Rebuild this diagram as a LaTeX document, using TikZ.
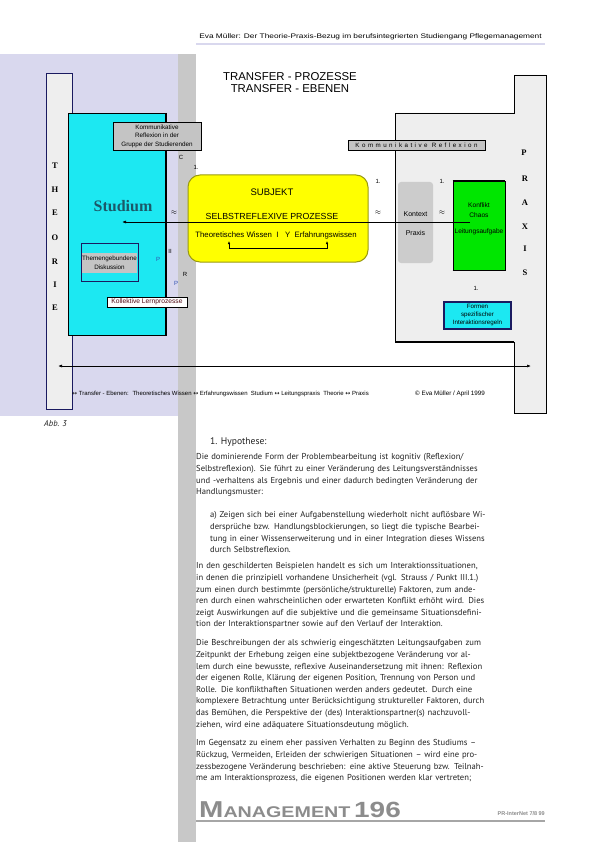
\documentclass[tikz,border=0pt]{standalone}
\usepackage{fontspec}
\setmainfont{PT Sans}
\newfontfamily\arial{Liberation Sans}
\newfontfamily\tnr{Liberation Serif}
\newfontfamily\djv{DejaVu Sans}
\usetikzlibrary{arrows.meta}
\definecolor{lav}{HTML}{D9D8EE}
\definecolor{gbar}{HTML}{C8C8C8}
\definecolor{pale}{HTML}{EEEEEE}
\definecolor{cyanb}{HTML}{1CE8F2}
\definecolor{studcol}{HTML}{1B5868}
\definecolor{yel}{HTML}{FFFF00}
\definecolor{olivb}{HTML}{9A9A10}
\definecolor{grn}{HTML}{00E600}
\definecolor{ctx}{HTML}{CCCCCC}
\definecolor{lbl}{HTML}{C4C4C4}
\definecolor{navyb}{HTML}{1A1A60}
\definecolor{txt}{HTML}{222222}
\definecolor{mgray}{HTML}{8C8C8C}
\definecolor{pblue}{HTML}{3050B0}
\newcommand{\jl}[1]{\makebox[\linewidth][s]{#1}}
\begin{document}
\begin{tikzpicture}[x=1pt,y=-1pt,
  tinytxt/.style={font=\arial\fontsize{6.3}{8.6}\selectfont, inner sep=0pt, align=center},
  smalltxt/.style={font=\arial\fontsize{6.7}{7.5}\selectfont, inner sep=0pt, align=center},
  midtxt/.style={font=\arial\fontsize{7}{9}\selectfont, inner sep=0pt, align=center},
  lettertxt/.style={font=\tnr\bfseries\fontsize{8.5}{8.5}\selectfont, inner sep=0pt},
  marktxt/.style={font=\arial\fontsize{6}{6}\selectfont, inner sep=0pt},
  lblbox/.style={draw=black, fill=lbl, line width=0.6pt},
  bodytxt/.style={font=\fontsize{8.6}{11.6}\selectfont, text=txt, inner sep=0pt, anchor=north west, align=left},
  arr/.style={-{Latex[length=4pt,width=3pt]}, line width=0.7pt},
  dblarr/.style={{Latex[length=4pt,width=3pt]}-{Latex[length=4pt,width=3pt]}, line width=0.7pt}
]
\useasboundingbox (0,0) rectangle (595,842);
\fill[white] (0,0) rectangle (595,842);
% background bands
\fill[lav] (0,54) rectangle (178,416);
\fill[gbar] (178,54) rectangle (196,842);
\draw[lav, line width=1.5pt] (196,44) -- (545,44);
\node[font=\arial\fontsize{6.6}{7}\selectfont, anchor=base, inner sep=0pt] (hdr) at (370.5,38.5)
  {\scalebox{1.26}[1]{Eva Müller: Der Theorie-Praxis-Bezug im berufsintegrierten Studiengang Pflegemanagement}};

% THEORIE column and Studium
\draw[navyb, line width=1pt, fill=pale] (46,74) rectangle (72,409);
\draw[black, line width=0.6pt, fill=cyanb] (68,113) rectangle (166,335);
\draw[line width=1.3pt] (166,113) -- (166,335);
\node[lettertxt] (th1) at (55,166) {T};
\node[lettertxt] (th2) at (55,190) {H};
\node[lettertxt] (th3) at (55,213) {E};
\node[lettertxt] (th4) at (55,238) {O};
\node[lettertxt] (th5) at (55,262) {R};
\node[lettertxt] (th6) at (55,285) {I};
\node[lettertxt] (th7) at (55,308) {E};
\node[font=\tnr\bfseries\fontsize{16}{16}\selectfont, text=studcol, inner sep=0pt] (stud) at (123,206) {Studium};
\coordinate (studend) at (122,222);

% PRAXIS column
\draw[black, line width=0.6pt, fill=pale] (395,113) -- (514,113) -- (514,75) -- (546,75) -- (546,413) -- (514,413) -- (514,342) -- (395,342) -- cycle;
\draw[line width=1.6pt] (395,342) -- (514,342);
\node[lettertxt] (pr1) at (524,153) {P};
\node[lettertxt] (pr2) at (525,179) {R};
\node[lettertxt] (pr3) at (525,203) {A};
\node[lettertxt] (pr4) at (525,227) {X};
\node[lettertxt] (pr5) at (525,249) {I};
\node[lettertxt] (pr6) at (525,273) {S};

% titles
\node[font=\arial\fontsize{11.4}{11.4}\selectfont, inner sep=0pt] (tit1) at (290,77) {TRANSFER - PROZESSE};
\node[font=\arial\fontsize{11.4}{11.4}\selectfont, inner sep=0pt] (tit2) at (290,89) {TRANSFER - EBENEN};

% label boxes
\node[lblbox, tinytxt, minimum width=88pt, minimum height=28pt] (komgr) at (157,136)
  {Kommunikative\\Reflexion in der\\Gruppe der Studierenden};
\node[lblbox, minimum width=137pt, minimum height=10pt, inner sep=0pt,
  font=\arial\fontsize{6.2}{6.2}\selectfont\addfontfeature{LetterSpace=40}] (komref) at (416.5,145) {Kommunikative Reflexion};

\node[draw=navyb, line width=1pt, minimum width=57pt, minimum height=38pt, inner sep=0pt] (themen) at (109.5,262) {};
\node[fill=lbl, font=\arial\fontsize{6.3}{8.8}\selectfont, align=center, inner sep=0pt, minimum width=55pt, minimum height=20pt] (themtxt) at (109.5,263) {Themengebundene\\Diskussion};
\node[draw=black, fill=white, line width=0.8pt, minimum width=80pt, minimum height=10pt, smalltxt, text={rgb,255:red,80;green,10;blue,20}] (koll) at (147,302) {Kollektive Lernprozesse};

% marks
\node[marktxt] (mc) at (181,157) {C};
\node[marktxt] (m1a) at (196,167) {1.};
\node[marktxt, text=pblue] (mp1) at (158,259) {P};
\node[marktxt] (mii) at (170,251) {II};
\node[marktxt] (mr) at (185,274) {R};
\node[marktxt, text=pblue] (mp2) at (176,283) {P};
\node[marktxt] (m1b) at (378,181) {1.};
\node[marktxt] (m1c) at (442,181) {1.};
\node[marktxt] (m1d) at (476,288) {1.};
\node[inner sep=0pt, font=\fontsize{7}{7}\selectfont] (ap1) at (174,213) {$\approx$};
\node[inner sep=0pt, font=\fontsize{7}{7}\selectfont] (ap2) at (378,213) {$\approx$};
\node[inner sep=0pt, font=\fontsize{7}{7}\selectfont] (ap3) at (442,213) {$\approx$};

% subject box
\node[draw=olivb, fill=yel, line width=1pt, rounded corners=12pt, minimum width=180pt, minimum height=87pt, inner sep=0pt] (subj) at (278,218.5) {};
\node[font=\arial\fontsize{9.5}{9.5}\selectfont, inner sep=0pt] (subjt) at (272,192) {SUBJEKT};
\node[font=\arial\fontsize{8.8}{8.8}\selectfont, inner sep=0pt] (selbst) at (272,216) {SELBSTREFLEXIVE PROZESSE};
\node[font=\arial\fontsize{7.8}{7.8}\selectfont, inner sep=0pt] (wissen) at (276,235) {Theoretisches Wissen \ I \ \ Y \ Erfahrungswissen};
\coordinate (brl) at (229,241);
\coordinate (brr) at (327,241);
\draw[{Latex[length=3pt,width=2.5pt]}-{Latex[length=3pt,width=2.5pt]}, line width=0.7pt] (brl) -- ++(0,7) -| (brr);

% context and green boxes
\node[fill=ctx, rounded corners=3pt, minimum width=35pt, minimum height=81pt, inner sep=0pt] (ctxbox) at (415.5,222.5) {};
\node[midtxt] (ctx1) at (415.5,214) {Kontext};
\node[midtxt] (ctx2) at (415.5,233) {Praxis};
\node[draw=black, fill=grn, line width=0.6pt, minimum width=52pt, minimum height=89pt, inner sep=0pt] (grnbox) at (479,225.5) {};
\draw[line width=1.6pt] (grnbox.north west) -- (grnbox.north east);
\draw[line width=1.6pt] (grnbox.south west) -- (grnbox.south east);
\node[font=\arial\fontsize{6.6}{6.6}\selectfont, inner sep=0pt] (g1) at (479,205) {Konflikt};
\node[font=\arial\fontsize{6.6}{6.6}\selectfont, inner sep=0pt] (g2) at (479,215) {Chaos};
\node[font=\arial\fontsize{6.6}{6.6}\selectfont, inner sep=0pt] (g3) at (479,232) {Leitungsaufgabe};
\coordinate (grnstart) at (470,222);
\draw[arr] (grnstart) -- (studend);

\node[draw=navyb, fill=cyanb, line width=1.2pt, minimum width=67pt, minimum height=27pt, inner sep=0pt,
  font=\arial\fontsize{6.2}{8}\selectfont, align=center] (formen) at (477.5,315.5) {Formen\\spezifischer\\Interaktionsregeln};

% bottom double arrow
\coordinate (tarr) at (58,366);
\coordinate (parr) at (531,366);
\draw[dblarr] (tarr) -- (parr);

% legend
\node[font=\arial\fontsize{6}{6}\selectfont, anchor=west, inner sep=0pt] (legend) at (72,394)
  {{\djv ↔} Transfer - Ebenen: \ Theoretisches Wissen {\djv ↔} Erfahrungswissen \ Studium {\djv ↔} Leitungspraxis \ Theorie {\djv ↔} Praxis};
\node[font=\arial\fontsize{6.3}{6.3}\selectfont, anchor=west, inner sep=0pt] (copy) at (415,394) {© Eva Müller / April 1999};

\node[font=\itshape\fontsize{8.5}{8.5}\selectfont, anchor=west, inner sep=0pt, text=txt] (abb) at (44,424) {Abb. 3};

% body text
\node[font=\fontsize{9.6}{9.6}\selectfont, anchor=base west, inner sep=0pt, text=txt] (hyp) at (210,444.5) {1. Hypothese:};
\node[bodytxt, text width=349pt] (p1) at (196,453.6) {%
\jl{Die dominierende Form der Problembearbeitung ist kognitiv (Reflexion/}\\
\jl{Selbstreflexion). Sie führt zu einer Veränderung des Leitungsverständnisses}\\
\jl{und -verhaltens als Ergebnis und einer dadurch bedingten Veränderung der}\\
Handlungsmuster:};
\node[bodytxt, text width=335pt] (p2) at (210,511.6) {%
\jl{a) Zeigen sich bei einer Aufgabenstellung wiederholt nicht auflösbare Wi-}\\
\jl{dersprüche bzw. Handlungsblockierungen, so liegt die typische Bearbei-}\\
\jl{tung in einer Wissenserweiterung und in einer Integration dieses Wissens}\\
durch Selbstreflexion.};
\node[bodytxt, text width=349pt] (p3) at (196,562.6) {%
\jl{In den geschilderten Beispielen handelt es sich um Interaktionssituationen,}\\
\jl{in denen die prinzipiell vorhandene Unsicherheit (vgl. Strauss / Punkt III.1.)}\\
\jl{zum einen durch bestimmte (persönliche/strukturelle) Faktoren, zum ande-}\\
\jl{ren durch einen wahrscheinlichen oder erwarteten Konflikt erhöht wird. Dies}\\
\jl{zeigt Auswirkungen auf die subjektive und die gemeinsame Situationsdefini-}\\
tion der Interaktionspartner sowie auf den Verlauf der Interaktion.};
\node[bodytxt, text width=349pt] (p4) at (196,639.6) {%
\jl{Die Beschreibungen der als schwierig eingeschätzten Leitungsaufgaben zum}\\
\jl{Zeitpunkt der Erhebung zeigen eine subjektbezogene Veränderung vor al-}\\
\jl{lem durch eine bewusste, reflexive Auseinandersetzung mit ihnen: Reflexion}\\
\jl{der eigenen Rolle, Klärung der eigenen Position, Trennung von Person und}\\
\jl{Rolle. Die konflikthaften Situationen werden anders gedeutet. Durch eine}\\
\jl{komplexere Betrachtung unter Berücksichtigung struktureller Faktoren, durch}\\
\jl{das Bemühen, die Perspektive der (des) Interaktionspartner(s) nachzuvoll-}\\
ziehen, wird eine adäquatere Situationsdeutung möglich.};
\node[bodytxt, text width=349pt] (p5) at (196,739.6) {%
\jl{Im Gegensatz zu einem eher passiven Verhalten zu Beginn des Studiums –}\\
\jl{Rückzug, Vermeiden, Erleiden der schwierigen Situationen – wird eine pro-}\\
\jl{zessbezogene Veränderung beschrieben: eine aktive Steuerung bzw. Teilnah-}\\
\jl{me am Interaktionsprozess, die eigenen Positionen werden klar vertreten;}};

% footer
\node[anchor=base west, inner sep=0pt, text=mgray, font=\arial\bfseries] (mgmt) at (199,817)
  {\scalebox{1.27}[1]{\fontsize{23}{23}\selectfont M\fontsize{15.5}{15.5}\selectfont ANAGEMENT\hspace{3pt}\fontsize{22}{22}\selectfont 196}};
\node[anchor=base east, inner sep=0pt, text=mgray, font=\arial\bfseries\fontsize{5.5}{5.5}\selectfont] (journal) at (545,815) {PR-InterNet 7/8 99};
\draw[gray!70, line width=2pt] (196,821) -- (545,821);
\end{tikzpicture}
\end{document}
